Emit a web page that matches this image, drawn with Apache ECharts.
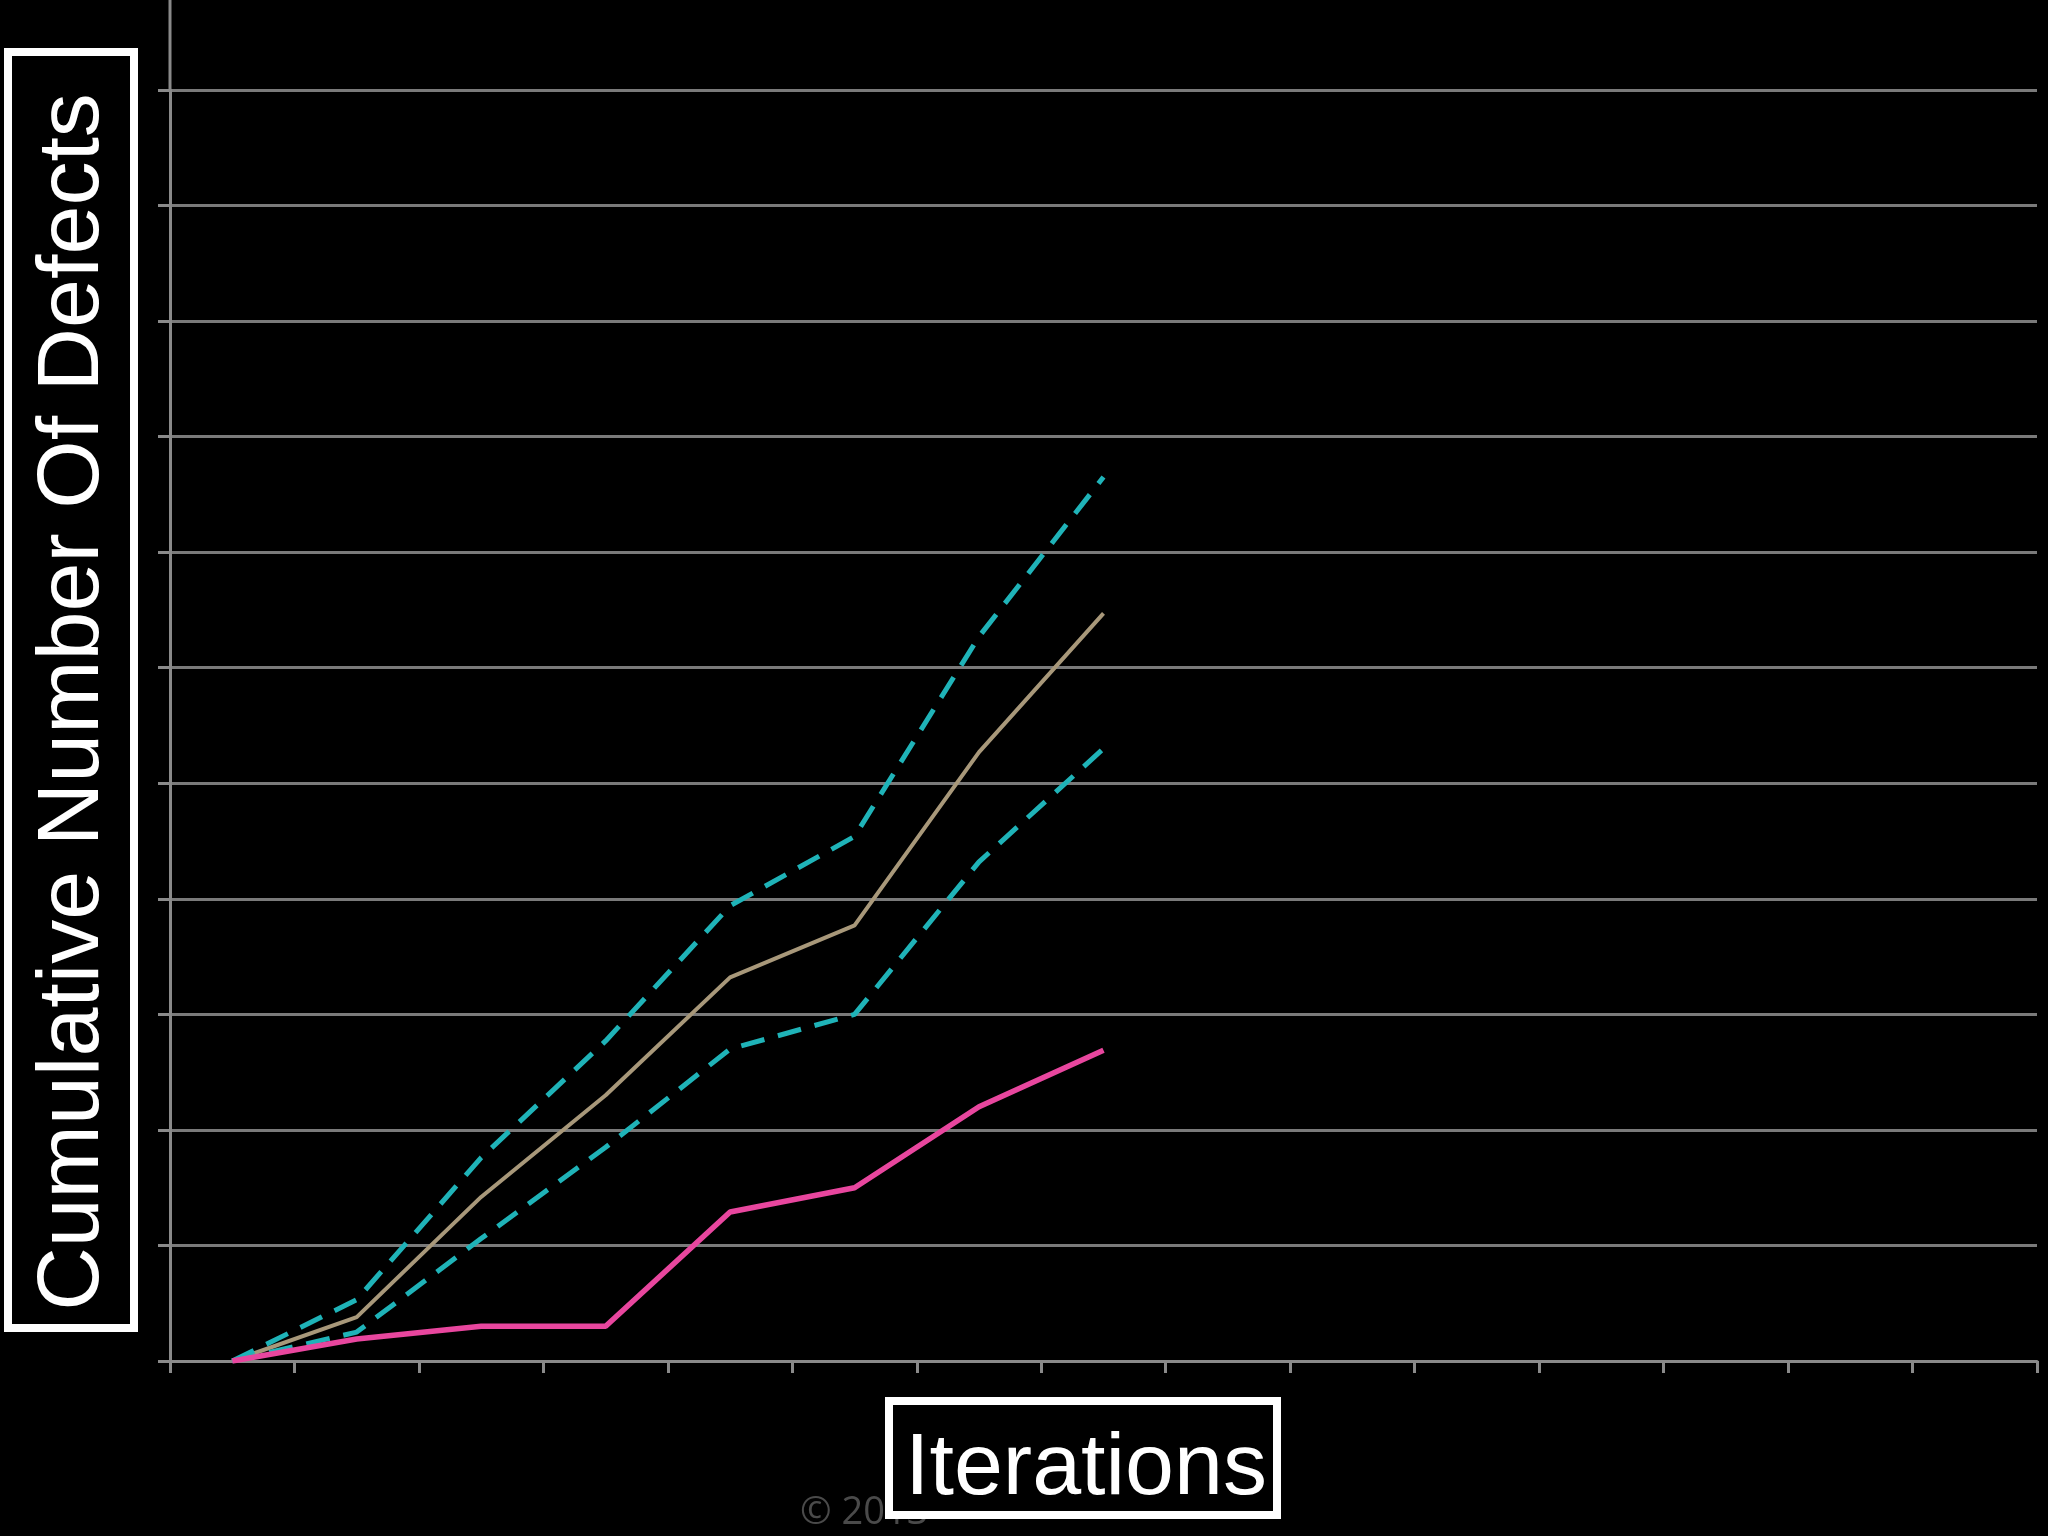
<!DOCTYPE html>
<html>
<head>
<meta charset="utf-8">
<style>html,body{margin:0;padding:0;background:#000}#main{width:2048px;height:1536px}</style>
<script src="https://cdn.jsdelivr.net/npm/echarts@6/dist/echarts.min.js"></script>
</head>
<body>
<div id="main"></div>
<script>
// iterations (15 slots, only first 8 have data)
const iterations = ['1','2','3','4','5','6','7','8','9','10','11','12','13','14','15'];
const upperBound = [0, 0.53, 1.76, 2.77, 3.94, 4.54, 6.27, 7.65];
const expected   = [0, 0.38, 1.42, 2.30, 3.32, 3.77, 5.27, 6.47];
const lowerBound = [0, 0.25, 1.06, 1.85, 2.70, 3.00, 4.32, 5.30];
const actual     = [0, 0.19, 0.30, 0.30, 1.29, 1.50, 2.20, 2.69];

var myChart = echarts.init(document.getElementById('main'));
var dashed = function (name, data) {
    return {
        name: name, type: 'line', data: data, symbol: 'none',
        lineStyle: { color: '#1fb3b8', width: 5, type: [24, 14] }, z: 3
    }
}
var option = {
    backgroundColor: '#000',
    animation: false,
    grid: { left: 170, right: 11, top: 90, bottom: 175 },
    xAxis: {
        type: 'category', data: iterations,
        axisLine: { lineStyle: { color: '#8a8a8a', width: 3 } },
        axisTick: { show: true, length: 12, lineStyle: { color: '#8a8a8a', width: 3 } },
        axisLabel: { show: false }
    },
    yAxis: {
        type: 'value', min: 0, max: 11, interval: 1,
        axisLine: { show: true, lineStyle: { color: '#8a8a8a', width: 3 } },
        axisTick: { show: true, length: 12, lineStyle: { color: '#8a8a8a', width: 3 } },
        axisLabel: { show: false },
        splitLine: { lineStyle: { color: '#7a7a7a', width: 3 } }
    },
    series: [
        dashed('upper', upperBound),
        dashed('lower', lowerBound),
        { name: 'expected', type: 'line', data: expected, symbol: 'none',
          lineStyle: { color: '#a8987a', width: 4 }, z: 2 },
        { name: 'actual', type: 'line', data: actual, symbol: 'none',
          lineStyle: { color: '#e8469e', width: 5.5 }, z: 4 }
    ],
    graphic: [
        { type: 'line', shape: { x1: 170, y1: 0, x2: 170, y2: 92 },
          style: { stroke: '#8a8a8a', lineWidth: 3 } },
        { type: 'text', left: 800, top: 1494,
          style: { text: '© 2013', fill: '#4a4a4a', font: '38px "Open Sans"' } },
        { type: 'rect', shape: { x: 889, y: 1401, width: 388, height: 114 },
          style: { fill: '#000', stroke: '#fff', lineWidth: 8 }, z: 10 },
        { type: 'text', x: 1086, y: 1470, z: 11,
          style: { text: 'Iterations', fill: '#fff', font: '88px "Liberation Sans"',
                   align: 'center', verticalAlign: 'middle' } },
        { type: 'rect', shape: { x: 8, y: 52, width: 126, height: 1276 },
          style: { fill: '#000', stroke: '#fff', lineWidth: 8 }, z: 10 },
        { type: 'text', x: 74, y: 702, rotation: Math.PI / 2, z: 11,
          style: { text: 'Cumulative Number Of Defects', fill: '#fff',
                   font: '88px "Liberation Sans"', align: 'center', verticalAlign: 'middle' } }
    ]
};
myChart.setOption(option);
</script>
</body>
</html>
